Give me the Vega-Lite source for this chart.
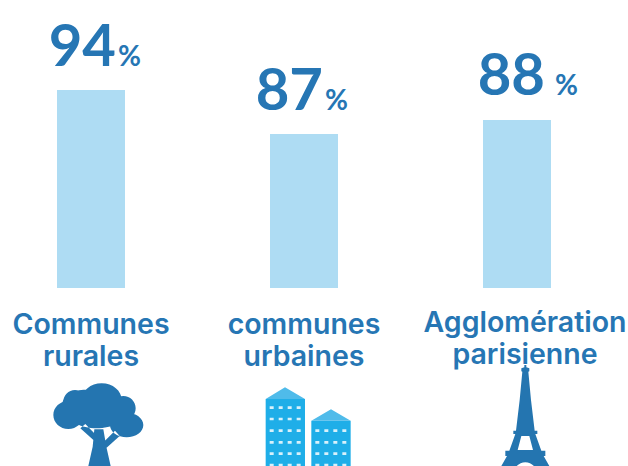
{
"$schema":"https://vega.github.io/schema/vega-lite/v6.json",
"width":628,"height":466,"padding":0,"autosize":{"type":"none"},
"background":"white",
"config":{"view":{"stroke":null}},
"data":{"values":[
{"commune":"Communes rurales","libelle":"Communes\nrurales","valeur":94,"barre":198},
{"commune":"communes urbaines","libelle":"communes\nurbaines","valeur":87,"barre":154},
{"commune":"Agglomération parisienne","libelle":"Agglomération\nparisienne","valeur":88,"barre":168}
]},
"encoding":{
"x":{"field":"commune","type":"nominal","sort":null,"axis":null,"scale":{"type":"point","range":[91,517],"padding":0}},
"y":{"field":"barre","type":"quantitative","axis":null,"scale":{"domain":[-178,288],"range":[466,0],"nice":false,"zero":false}}
},
"layer":[
{"mark":{"type":"bar","size":68,"color":"#AEDCF3"},"encoding":{"y2":{"datum":0}}},

{"transform":[{"filter":"datum.valeur==94"}],"mark":{"type":"text","font":"Lato","fontWeight":"bold","fontSize":58,"color":"#2676B4","align":"right","baseline":"alphabetic","dx":25,"dy":-24},"encoding":{"text":{"field":"valeur"}}},
{"transform":[{"filter":"datum.valeur==94"}],"mark":{"type":"text","font":"Lato","fontWeight":"bold","fontSize":28,"color":"#2676B4","align":"left","baseline":"alphabetic","dx":27,"dy":-24},"encoding":{"text":{"value":"%"}}},
{"transform":[{"filter":"datum.valeur==87"}],"mark":{"type":"text","font":"Lato","fontWeight":"bold","fontSize":58,"color":"#2676B4","align":"right","baseline":"alphabetic","dx":19,"dy":-24},"encoding":{"text":{"field":"valeur"}}},
{"transform":[{"filter":"datum.valeur==87"}],"mark":{"type":"text","font":"Lato","fontWeight":"bold","fontSize":28,"color":"#2676B4","align":"left","baseline":"alphabetic","dx":21,"dy":-24},"encoding":{"text":{"value":"%"}}},
{"transform":[{"filter":"datum.valeur==88"}],"mark":{"type":"text","font":"Lato","fontWeight":"bold","fontSize":58,"color":"#2676B4","align":"right","baseline":"alphabetic","dx":28,"dy":-25},"encoding":{"text":{"field":"valeur"}}},
{"transform":[{"filter":"datum.valeur==88"}],"mark":{"type":"text","font":"Lato","fontWeight":"bold","fontSize":28,"color":"#2676B4","align":"left","baseline":"alphabetic","dx":38,"dy":-25},"encoding":{"text":{"value":"%"}}},

{"transform":[{"filter":"datum.valeur!=88"}],"mark":{"type":"text","font":"Inter","fontWeight":600,"fontSize":28.5,"lineHeight":32,"lineBreak":"\n","color":"#2676B4","align":"center","baseline":"alphabetic","dy":46},"encoding":{"y":{"datum":0},"text":{"field":"libelle"}}},
{"transform":[{"filter":"datum.valeur==88"}],"mark":{"type":"text","font":"Inter","fontWeight":600,"fontSize":28.5,"lineHeight":32,"lineBreak":"\n","color":"#2676B4","align":"center","baseline":"alphabetic","dx":8,"dy":44},"encoding":{"y":{"datum":0},"text":{"field":"libelle"}}},

{"transform":[{"filter":"datum.valeur==94"}],"mark":{"type":"point","filled":true,"opacity":1,"strokeWidth":0,"size":0.4444,"color":"#2475B0","shape":"M-113 381a45 42 0 1 0 90 0a45 42 0 1 0 -90 0ZM-83 341a35 35 0 1 0 70 0a35 35 0 1 0 -70 0ZM-28 336a60 50 0 1 0 120 0a60 50 0 1 0 -120 0ZM60 361a37 37 0 1 0 74 0a37 37 0 1 0 -74 0ZM57 411a50 37 0 1 0 100 0a50 37 0 1 0 -100 0ZM-68 376a85 45 0 1 0 170 0a85 45 0 1 0 -170 0ZM-85 345a70 40 0 1 0 140 0a70 40 0 1 0 -140 0ZM10 424L37 424L46 476L59 534L72 600L-18 600L-8 534L5 476ZM-17 408L20 446L18 466L-32 421ZM72 428L86 444L46 480L42 458Z"},"encoding":{"y":{"datum":0}}},

{"transform":[{"filter":"datum.valeur==87"}],"mark":{"type":"point","filled":true,"opacity":1,"strokeWidth":0,"size":0.4444,"color":"#1FAEE8","shape":"M-115 333H3V600H-115ZM22 398H140V600H22Z"},"encoding":{"y":{"datum":0}}},
{"transform":[{"filter":"datum.valeur==87"}],"mark":{"type":"point","filled":true,"opacity":1,"strokeWidth":0,"size":0.4444,"color":"#4FBBEA","shape":"M-115 333L-57 298L3 333ZM22 398L81 364L140 398Z"},"encoding":{"y":{"datum":0}}},
{"transform":[{"filter":"datum.valeur==87"}],"mark":{"type":"point","filled":true,"opacity":1,"strokeWidth":0,"size":0.4444,"color":"#D8F1FB","shape":"M-103 355h12v8h-12zM-76 355h12v8h-12zM-49 355h12v8h-12zM-22 355h12v8h-12zM-103 389h12v8h-12zM-76 389h12v8h-12zM-49 389h12v8h-12zM-22 389h12v8h-12zM-103 424h12v8h-12zM-76 424h12v8h-12zM-49 424h12v8h-12zM-22 424h12v8h-12zM-103 459h12v8h-12zM-76 459h12v8h-12zM-49 459h12v8h-12zM-22 459h12v8h-12zM-103 493h12v8h-12zM-76 493h12v8h-12zM-49 493h12v8h-12zM-22 493h12v8h-12zM-103 527h12v8h-12zM-76 527h12v8h-12zM-49 527h12v8h-12zM-22 527h12v8h-12zM34 424h12v8h-12zM61 424h12v8h-12zM88 424h12v8h-12zM115 424h12v8h-12zM34 459h12v8h-12zM61 459h12v8h-12zM88 459h12v8h-12zM115 459h12v8h-12zM34 493h12v8h-12zM61 493h12v8h-12zM88 493h12v8h-12zM115 493h12v8h-12zM34 527h12v8h-12zM61 527h12v8h-12zM88 527h12v8h-12zM115 527h12v8h-12z"},"encoding":{"y":{"datum":0}}},

{"transform":[{"filter":"datum.valeur==88"}],"mark":{"type":"point","filled":true,"opacity":1,"strokeWidth":0,"size":0.4444,"color":"#2475B0","shape":"M22 231L28 231L28 238L37 241L37 250L34 251L42 336L53 428L61 428L61 438L55 438L73 488L85 488L85 504L80 504L97 534L115 586L-65 586L-47 534L-30 504L-35 504L-35 488L-23 488L-5 438L-11 438L-11 428L-3 428L8 336L16 251L13 250L13 241L22 238ZM13 444L2 486L48 486L37 444ZM65 586L65 570A40 47 0 0 0 -15 570L-15 586Z"},"encoding":{"y":{"datum":0}}}
]
}
